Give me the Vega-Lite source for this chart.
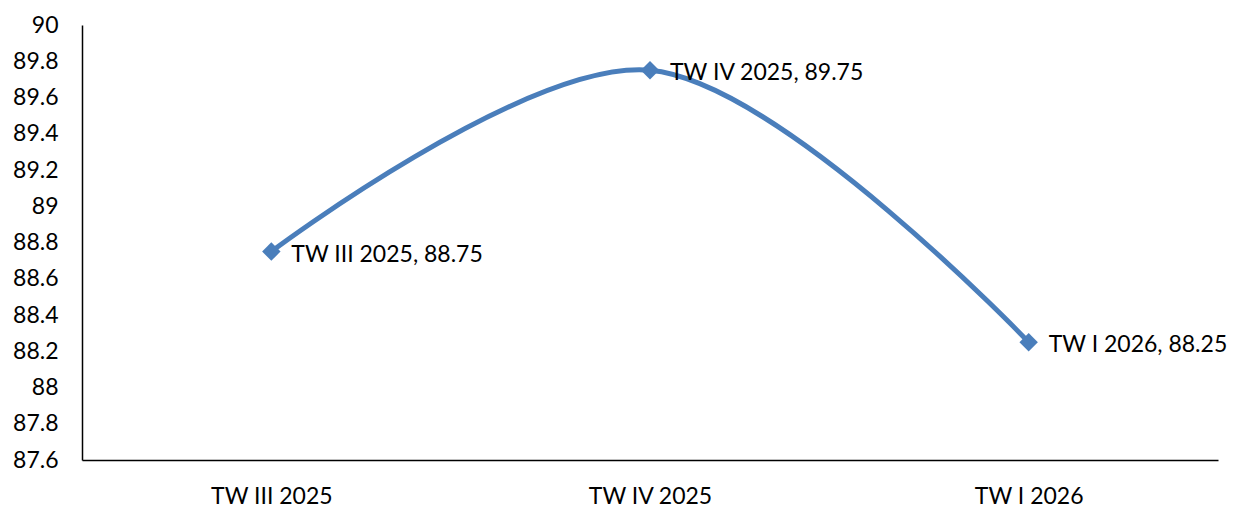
{
  "$schema": "https://vega.github.io/schema/vega-lite/v6.json",
  "width": 1136,
  "height": 435,
  "autosize": "none",
  "padding": {"left": 82, "top": 25, "right": 25, "bottom": 48},
  "background": "white",
  "config": {"view": {"stroke": null}, "font": "Lato"},
  "data": {"values": [
    {"period": "TW III 2025", "value": 88.75, "label": "TW III 2025, 88.75"},
    {"period": "TW IV 2025", "value": 89.75, "label": "TW IV 2025, 89.75"},
    {"period": "TW I 2026", "value": 88.25, "label": "TW I 2026, 88.25"}
  ]},
  "encoding": {
    "x": {"field": "period", "type": "ordinal", "sort": null,
      "scale": {"paddingInner": 0, "paddingOuter": 0.5},
      "axis": {"title": null, "labelAngle": 0, "ticks": false, "domainColor": "black", "domainWidth": 1.5,
        "labelFont": "Lato", "labelFontSize": 23, "labelColor": "black", "labelPadding": 25, "grid": false}},
    "y": {"field": "value", "type": "quantitative",
      "scale": {"domain": [87.6, 90], "nice": false, "zero": false},
      "axis": {"title": null, "values": [87.6, 87.8, 88, 88.2, 88.4, 88.6, 88.8, 89, 89.2, 89.4, 89.6, 89.8, 90],
        "format": ".3~r",
        "ticks": false, "grid": false, "domainColor": "black", "domainWidth": 1.5,
        "labelFont": "Lato", "labelFontSize": 23, "labelColor": "black", "labelPadding": 24}}
  },
  "layer": [
    {"mark": {"type": "line", "interpolate": "catmull-rom", "color": "#4A7EBB", "strokeWidth": 5}},
    {"mark": {"type": "point", "shape": "diamond", "filled": true, "color": "#4A7EBB", "size": 340, "opacity": 1}},
    {"mark": {"type": "text", "align": "left", "baseline": "middle", "dx": 20, "dy": 3, "fontSize": 23, "font": "Lato", "color": "black"},
      "encoding": {"text": {"field": "label"}}}
  ]
}
